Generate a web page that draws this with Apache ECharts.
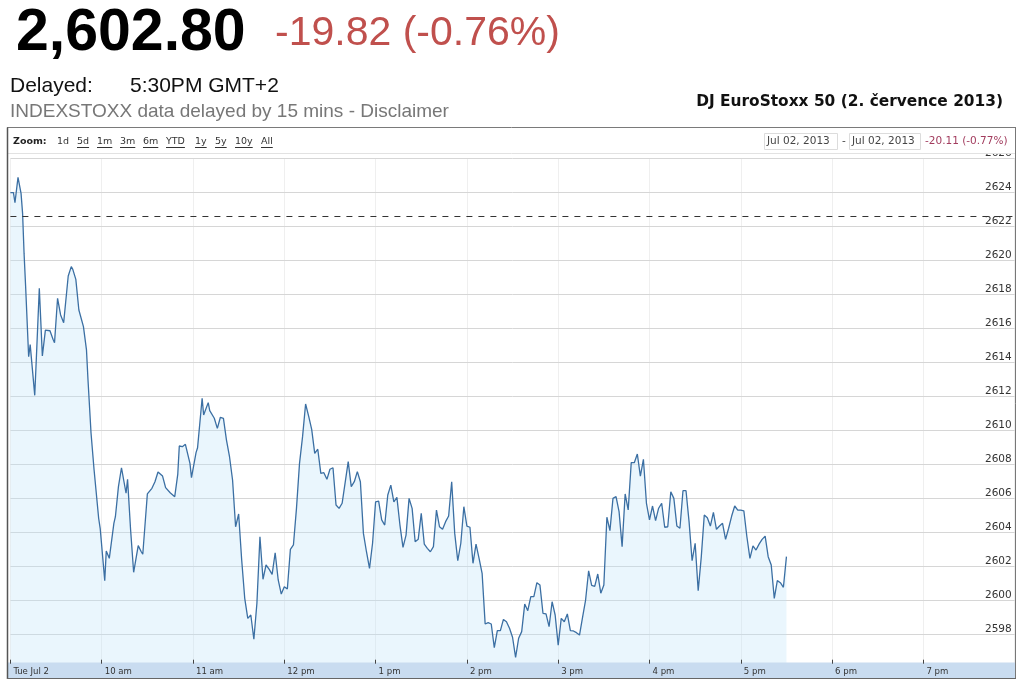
<!DOCTYPE html>
<html>
<head>
<meta charset="utf-8">
<script src="https://cdn.jsdelivr.net/npm/echarts/dist/echarts.min.js"></script>
<style>
html,body{margin:0;padding:0;background:#fff;}
#chart{position:absolute;left:0;top:0;width:1018px;height:681px;}
</style>
</head>
<body>
<div id="chart"></div>
<script>
// ---- data (minutes after 9:00, index level) ----
const minutes = [0,2,3,5,7,8,9,10,12,13,16,17,19,21,23,26,28,29,31,33,35,38,40,41,43,45,48,50,51,53,55,58,59,62,63,65,68,69,71,73,76,77,79,81,84,86,87,90,91,93,95,97,100,102,105,108,110,111,113,115,118,119,122,123,126,127,130,131,134,136,138,140,142,144,146,148,150,152,154,156,158,160,162,164,166,168,170,172,174,176,178,180,182,184,186,188,190,192,194,196,198,200,202,204,206,208,210,212,214,216,218,222,224,226,228,230,232,234,236,238,240,242,244,246,248,250,252,254,256,258,260,262,264,266,268,270,272,274,276,278,280,282,284,286,288,290,292,294,296,298,300,302,304,306,308,310,312,314,316,318,320,322,324,326,328,330,332,334,336,338,340,342,344,346,348,350,352,354,356,358,360,362,364,366,368,370,372,374,376,378,380,382,384,386,388,390,392,394,396,398,400,402,404,406,408,410,412,414,416,418,420,422,424,426,428,430,432,434,436,438,440,442,444,446,448,450,452,454,456,458,460,462,464,466,468,470,472,474,476,478,480,482,484,486,488,490,492,494,496,498,500,502,504,506,508,510];
const prices = [2624.0,2624.0,2623.41,2624.9,2623.96,2622.8,2620.4,2618.5,2614.35,2615.06,2612.08,2614.16,2618.38,2614.4,2615.92,2615.88,2615.38,2615.18,2617.79,2616.81,2616.35,2619.1,2619.65,2619.49,2618.9,2617.1,2616.12,2614.75,2612.98,2609.85,2607.69,2604.85,2604.26,2601.18,2602.92,2602.49,2604.55,2604.94,2606.71,2607.82,2606.32,2607.14,2604.16,2601.67,2603.24,2602.88,2602.73,2606.28,2606.22,2606.61,2607.0,2607.57,2607.33,2606.65,2606.35,2606.12,2607.45,2609.1,2609.06,2609.2,2608.08,2607.24,2608.71,2609.0,2611.91,2610.92,2611.65,2611.18,2610.73,2610.14,2610.79,2610.73,2609.45,2608.47,2607.1,2604.35,2605.1,2602.39,2600.14,2598.96,2599.16,2597.73,2599.85,2603.76,2601.26,2602.1,2601.86,2601.55,2602.82,2601.22,2600.39,2600.82,2600.69,2603.02,2603.28,2605.43,2608.08,2609.65,2611.57,2610.86,2610.08,2608.67,2608.91,2607.49,2607.53,2607.14,2607.73,2607.82,2605.63,2605.43,2605.73,2608.18,2606.71,2607.0,2607.59,2607.0,2603.96,2602.88,2601.9,2603.38,2605.82,2605.86,2604.75,2604.45,2606.22,2606.8,2605.82,2606.08,2604.45,2603.14,2603.86,2606.02,2605.43,2603.47,2603.61,2605.14,2603.33,2603.08,2602.88,2603.18,2605.33,2604.35,2604.2,2604.65,2604.98,2607.0,2603.96,2602.35,2603.38,2605.53,2604.39,2604.32,2602.2,2603.33,2602.49,2601.61,2598.63,2598.71,2598.63,2597.24,2598.24,2598.24,2598.9,2598.76,2598.38,2597.85,2596.67,2597.79,2598.18,2599.8,2599.41,2600.24,2600.24,2601.06,2600.92,2599.26,2599.22,2598.47,2599.94,2599.16,2597.39,2598.96,2598.76,2599.22,2598.24,2598.22,2598.12,2597.98,2599.02,2600.04,2601.76,2600.9,2600.84,2601.57,2600.44,2600.92,2604.91,2604.12,2606.02,2606.12,2605.24,2603.18,2606.28,2605.34,2608.12,2608.12,2608.63,2607.33,2608.32,2605.73,2604.75,2605.57,2604.71,2605.44,2605.73,2604.32,2604.35,2606.41,2606.02,2604.39,2604.26,2606.47,2606.47,2604.65,2602.35,2603.38,2600.59,2602.55,2605.04,2604.88,2604.39,2605.2,2604.2,2604.39,2604.55,2603.61,2604.26,2604.98,2605.57,2605.33,2605.33,2605.29,2603.76,2602.49,2603.22,2602.98,2603.33,2603.61,2603.8,2602.59,2602.1,2600.14,2601.18,2601.06,2600.79,2602.59];
const previousClose = 2622.62;
const hourLabels = ['Tue Jul 2','10 am','11 am','12 pm','1 pm','2 pm','3 pm','4 pm','5 pm','6 pm','7 pm'];
const zoomItems = ['1d','5d','1m','3m','6m','YTD','1y','5y','10y','All'];
const zoomX = [57,77,97,120,143,166,195,215,235,261];

const priceText = '2,602.80';
const changeText = '-19.82 (-0.76%)';
const titleText = 'DJ EuroStoxx 50 (2. července 2013)';

const seriesData = minutes.map((m,i)=>[m,prices[i]]);

// measure helper for underlines
const mctx = document.createElement('canvas').getContext('2d');
function textW(txt, font){ mctx.font = font; return mctx.measureText(txt).width; }

const smallFont = '9.5px "DejaVu Sans"';
const G = [];
// panel toolbar background (covers top of plot)
G.push({type:'rect', shape:{x:8,y:128.5,width:1007,height:24.5}, style:{fill:'#fff'}, z:50});
G.push({type:'line', shape:{x1:8,y1:153.5,x2:1015,y2:153.5}, style:{stroke:'#e2e2e2',lineWidth:1}, z:51});
// x axis band
G.push({type:'rect', shape:{x:8,y:662.5,width:1007,height:15.5}, style:{fill:'#c9dcf0'}, z:50});
// borders
G.push({type:'line', shape:{x1:7,y1:127.5,x2:1016,y2:127.5}, style:{stroke:'#7a7a7a',lineWidth:1}, z:52});
G.push({type:'line', shape:{x1:7.5,y1:127.5,x2:7.5,y2:679}, style:{stroke:'#555',lineWidth:1.5}, z:52});
G.push({type:'line', shape:{x1:1015.5,y1:127.5,x2:1015.5,y2:679}, style:{stroke:'#777',lineWidth:1}, z:52});
G.push({type:'line', shape:{x1:7,y1:678.5,x2:1016,y2:678.5}, style:{stroke:'#666',lineWidth:1.2}, z:52});
// header texts
G.push({type:'text', z:60, style:{text:priceText, x:16, y:34, font:'bold 59px "Liberation Sans"', fill:'#000', verticalAlign:'middle'}});
G.push({type:'text', z:60, style:{text:changeText, x:275, y:34, font:'41px "Liberation Sans"', fill:'#c0504d', verticalAlign:'middle'}});
G.push({type:'text', z:60, style:{text:'Delayed:', x:10, y:86, font:'21px "Liberation Sans"', fill:'#111', verticalAlign:'middle'}});
G.push({type:'text', z:60, style:{text:'5:30PM GMT+2', x:130, y:86, font:'21px "Liberation Sans"', fill:'#111', verticalAlign:'middle'}});
G.push({type:'text', z:60, style:{text:'INDEXSTOXX data delayed by 15 mins - Disclaimer', x:10, y:112, font:'19px "Liberation Sans"', fill:'#777', verticalAlign:'middle'}});
G.push({type:'text', z:60, style:{text:titleText, x:1003, y:102, font:'bold 15.4px "DejaVu Sans"', fill:'#111', align:'right', verticalAlign:'middle'}});
// toolbar
G.push({type:'text', z:60, style:{text:'Zoom:', x:13, y:141.5, font:'bold 9.5px "DejaVu Sans"', fill:'#222', verticalAlign:'middle'}});
zoomItems.forEach((t,i)=>{
  G.push({type:'text', z:60, style:{text:t, x:zoomX[i], y:141.5, font:smallFont, fill:'#333', verticalAlign:'middle'}});
  if(i>0){
    const w = textW(t, smallFont);
    G.push({type:'line', z:60, shape:{x1:zoomX[i],y1:147.5,x2:zoomX[i]+w,y2:147.5}, style:{stroke:'#333',lineWidth:1}});
  }
});
const rangeFont = '10.5px "DejaVu Sans"';
G.push({type:'rect', z:59, shape:{x:764.5,y:133.5,width:73,height:16}, style:{fill:'#fff',stroke:'#dcdcdc',lineWidth:1}});
G.push({type:'rect', z:59, shape:{x:849.5,y:133.5,width:71,height:16}, style:{fill:'#fff',stroke:'#dcdcdc',lineWidth:1}});
G.push({type:'text', z:60, style:{text:'Jul 02, 2013', x:767, y:141.5, font:rangeFont, fill:'#444', verticalAlign:'middle'}});
G.push({type:'text', z:60, style:{text:'-', x:842, y:141.5, font:rangeFont, fill:'#444', verticalAlign:'middle'}});
G.push({type:'text', z:60, style:{text:'Jul 02, 2013', x:852, y:141.5, font:rangeFont, fill:'#444', verticalAlign:'middle'}});
G.push({type:'text', z:60, style:{text:'-20.11 (-0.77%)', x:925, y:141.5, font:rangeFont, fill:'#a23c5e', verticalAlign:'middle'}});

const chart = echarts.init(document.getElementById('chart'), null, {renderer:'canvas'});
chart.setOption({
  animation:false,
  backgroundColor:'#fff',
  grid:{left:10.4, right:3.3, top:158.7, bottom:12.3, containLabel:false},
  xAxis:[{
    type:'value', min:0, max:660, interval:60, z:0,
    axisLine:{show:false}, axisTick:{show:false}, axisLabel:{show:false},
    splitLine:{show:true, lineStyle:{color:'#efefef', width:1}}
  },{
    type:'value', min:0, max:660, interval:60, z:70, position:'bottom', offset:-5,
    axisLine:{show:false},
    axisTick:{show:true, inside:true, length:4, lineStyle:{color:'#444', width:1}},
    splitLine:{show:false},
    axisLabel:{show:true, inside:false, margin:8, align:'left', verticalAlign:'middle', padding:[0,0,0,3],
      fontFamily:'"DejaVu Sans Condensed","DejaVu Sans"', fontSize:9.5, color:'#333',
      showMaxLabel:false,
      formatter:function(v){ const i = Math.round(v/60); return hourLabels[i] !== undefined ? hourLabels[i] : ''; }}
  }],
  yAxis:{
    type:'value', position:'right', min:2596, max:2626, interval:2, z:1,
    axisLine:{show:false}, axisTick:{show:false},
    splitLine:{show:true, lineStyle:{color:'#d6d6d6', width:1}},
    axisLabel:{inside:true, margin:3, verticalAlign:'bottom', fontFamily:'"DejaVu Sans"', fontSize:10.5, color:'#333',
      formatter:function(v){ return v === 2596 ? '' : String(v); }}
  },
  series:[{
    type:'line', xAxisIndex:0, data:seriesData, showSymbol:false, symbol:'none',
    lineStyle:{color:'#3b6fa3', width:1.3},
    areaStyle:{color:'rgba(190,226,250,0.45)'},
    markLine:{silent:true, symbol:'none', label:{show:false},
      lineStyle:{color:'#333', type:[6,6], width:1},
      data:[{yAxis:previousClose}]}
  }],
  graphic:{elements:G}
});
</script>
</body>
</html>
